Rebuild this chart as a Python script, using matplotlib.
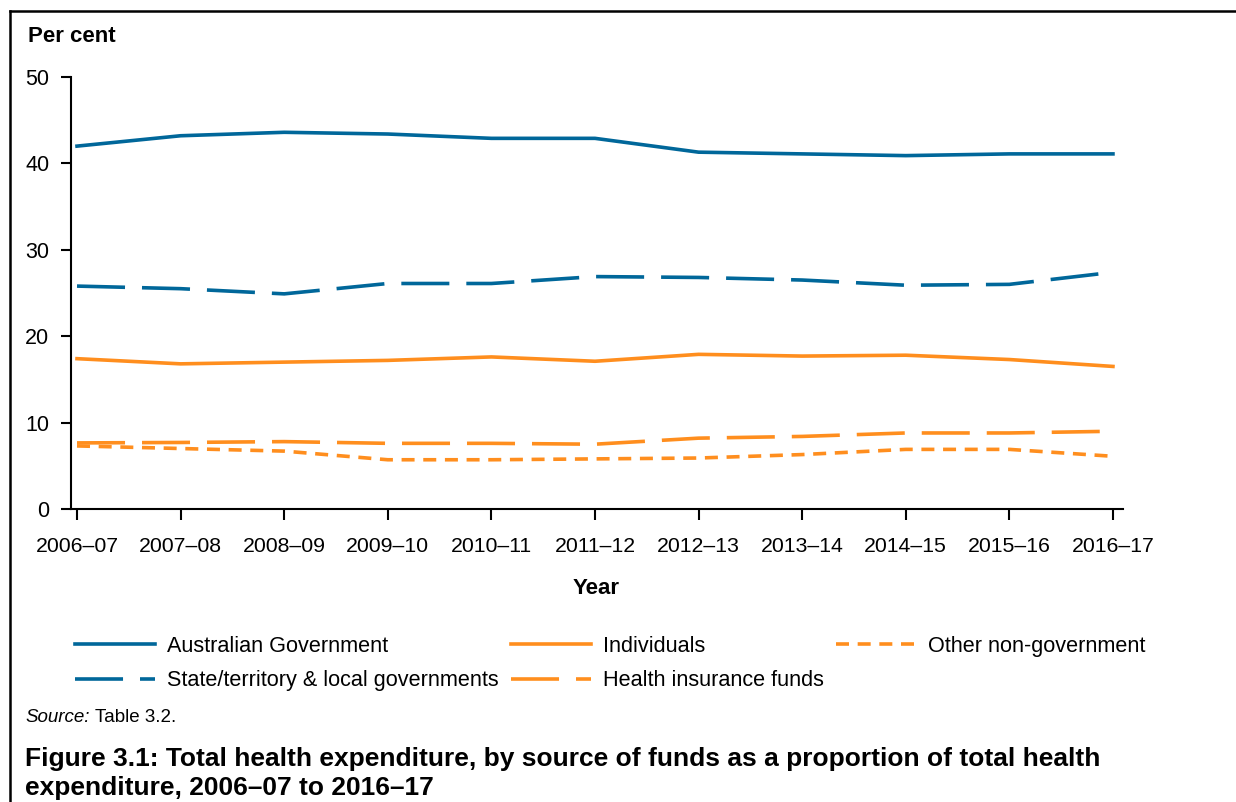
import matplotlib.pyplot as plt
from matplotlib.lines import Line2D

plt.rcParams['font.family'] = ['Liberation Sans', 'DejaVu Sans']

years = ['2006–07', '2007–08', '2008–09', '2009–10', '2010–11', '2011–12',
         '2012–13', '2013–14', '2014–15', '2015–16', '2016–17']
aus_gov = [42.0, 43.2, 43.6, 43.4, 42.9, 42.9, 41.3, 41.1, 40.9, 41.1, 41.1]
state_gov = [25.8, 25.5, 24.9, 26.1, 26.1, 26.9, 26.8, 26.5, 25.9, 26.0, 27.4]
individuals = [17.4, 16.8, 17.0, 17.2, 17.6, 17.1, 17.9, 17.7, 17.8, 17.3, 16.5]
insurance = [7.65, 7.7, 7.8, 7.6, 7.6, 7.5, 8.2, 8.4, 8.8, 8.8, 9.0]
other_nongov = [7.3, 7.0, 6.7, 5.7, 5.7, 5.8, 5.9, 6.3, 6.9, 6.9, 6.1]

blue = '#00679A'
orange = '#FF8E1E'
lw = 2.6
long_dash = (0, (13.3, 4.7))
short_dash = (0, (3.6, 2.4))

fig = plt.figure(figsize=(12.36, 8.02), dpi=100)
ax = fig.add_axes([71 / 1236, 1 - 509 / 802, (1123 - 71) / 1236, (509 - 77) / 802])

x = range(len(years))
ax.plot(x, aus_gov, color=blue, lw=lw, label='Australian Government')
ax.plot(x, state_gov, color=blue, lw=lw, linestyle=long_dash,
        label='State/territory & local governments')
ax.plot(x, individuals, color=orange, lw=lw, label='Individuals')
ax.plot(x, insurance, color=orange, lw=lw, linestyle=long_dash,
        label='Health insurance funds')
ax.plot(x, other_nongov, color=orange, lw=lw, linestyle=short_dash,
        label='Other non-government')

ax.set_xlim(-0.058, 10.097)
ax.set_ylim(0, 50)
ax.set_xticks(list(x))
ax.set_xticklabels(years)
ax.set_yticks([0, 10, 20, 30, 40, 50])
ax.tick_params(axis='x', direction='out', length=8, width=1.5, pad=12, labelsize=15.3)
ax.tick_params(axis='y', direction='out', length=7.5, width=1.5, pad=8, labelsize=15.5)
for s in ['top', 'right']:
    ax.spines[s].set_visible(False)
for s in ['left', 'bottom']:
    ax.spines[s].set_linewidth(1.5)

fig.text(28 / 1236, 1 - 36 / 802, 'Per cent', fontsize=16, fontweight='bold', va='center')
fig.text(596 / 1236, 1 - 589 / 802, 'Year', fontsize=16, fontweight='bold',
         ha='center', va='center')

handles, labels = ax.get_legend_handles_labels()
fig.legend(handles, labels, ncol=3, loc='upper left',
           bbox_to_anchor=(75 / 1236, 1 - 636 / 802), frameon=False,
           fontsize=15.6, handlelength=3.7, handletextpad=0.55,
           columnspacing=0.55, labelspacing=0.62, borderpad=0, borderaxespad=0)

fig.text(25 / 1236, 1 - 717 / 802, 'Source:', fontsize=13.5, style='italic', va='center')
fig.text(95 / 1236, 1 - 717 / 802, 'Table 3.2.', fontsize=13.5, va='center')
fig.text(25 / 1236, 1 - 759 / 802,
         'Figure 3.1: Total health expenditure, by source of funds as a proportion of total health',
         fontsize=19, fontweight='bold', va='center')
fig.text(25 / 1236, 1 - 788 / 802, 'expenditure, 2006–07 to 2016–17',
         fontsize=19, fontweight='bold', va='center')

# frame on the left and top
fig.add_artist(Line2D([10 / 1236, 10 / 1236], [0, 1 - 11 / 802], color='black',
                      lw=1.8, transform=fig.transFigure))
fig.add_artist(Line2D([10 / 1236, 1], [1 - 11 / 802, 1 - 11 / 802], color='black',
                      lw=1.8, transform=fig.transFigure))

fig.savefig('out.png', dpi=100)
